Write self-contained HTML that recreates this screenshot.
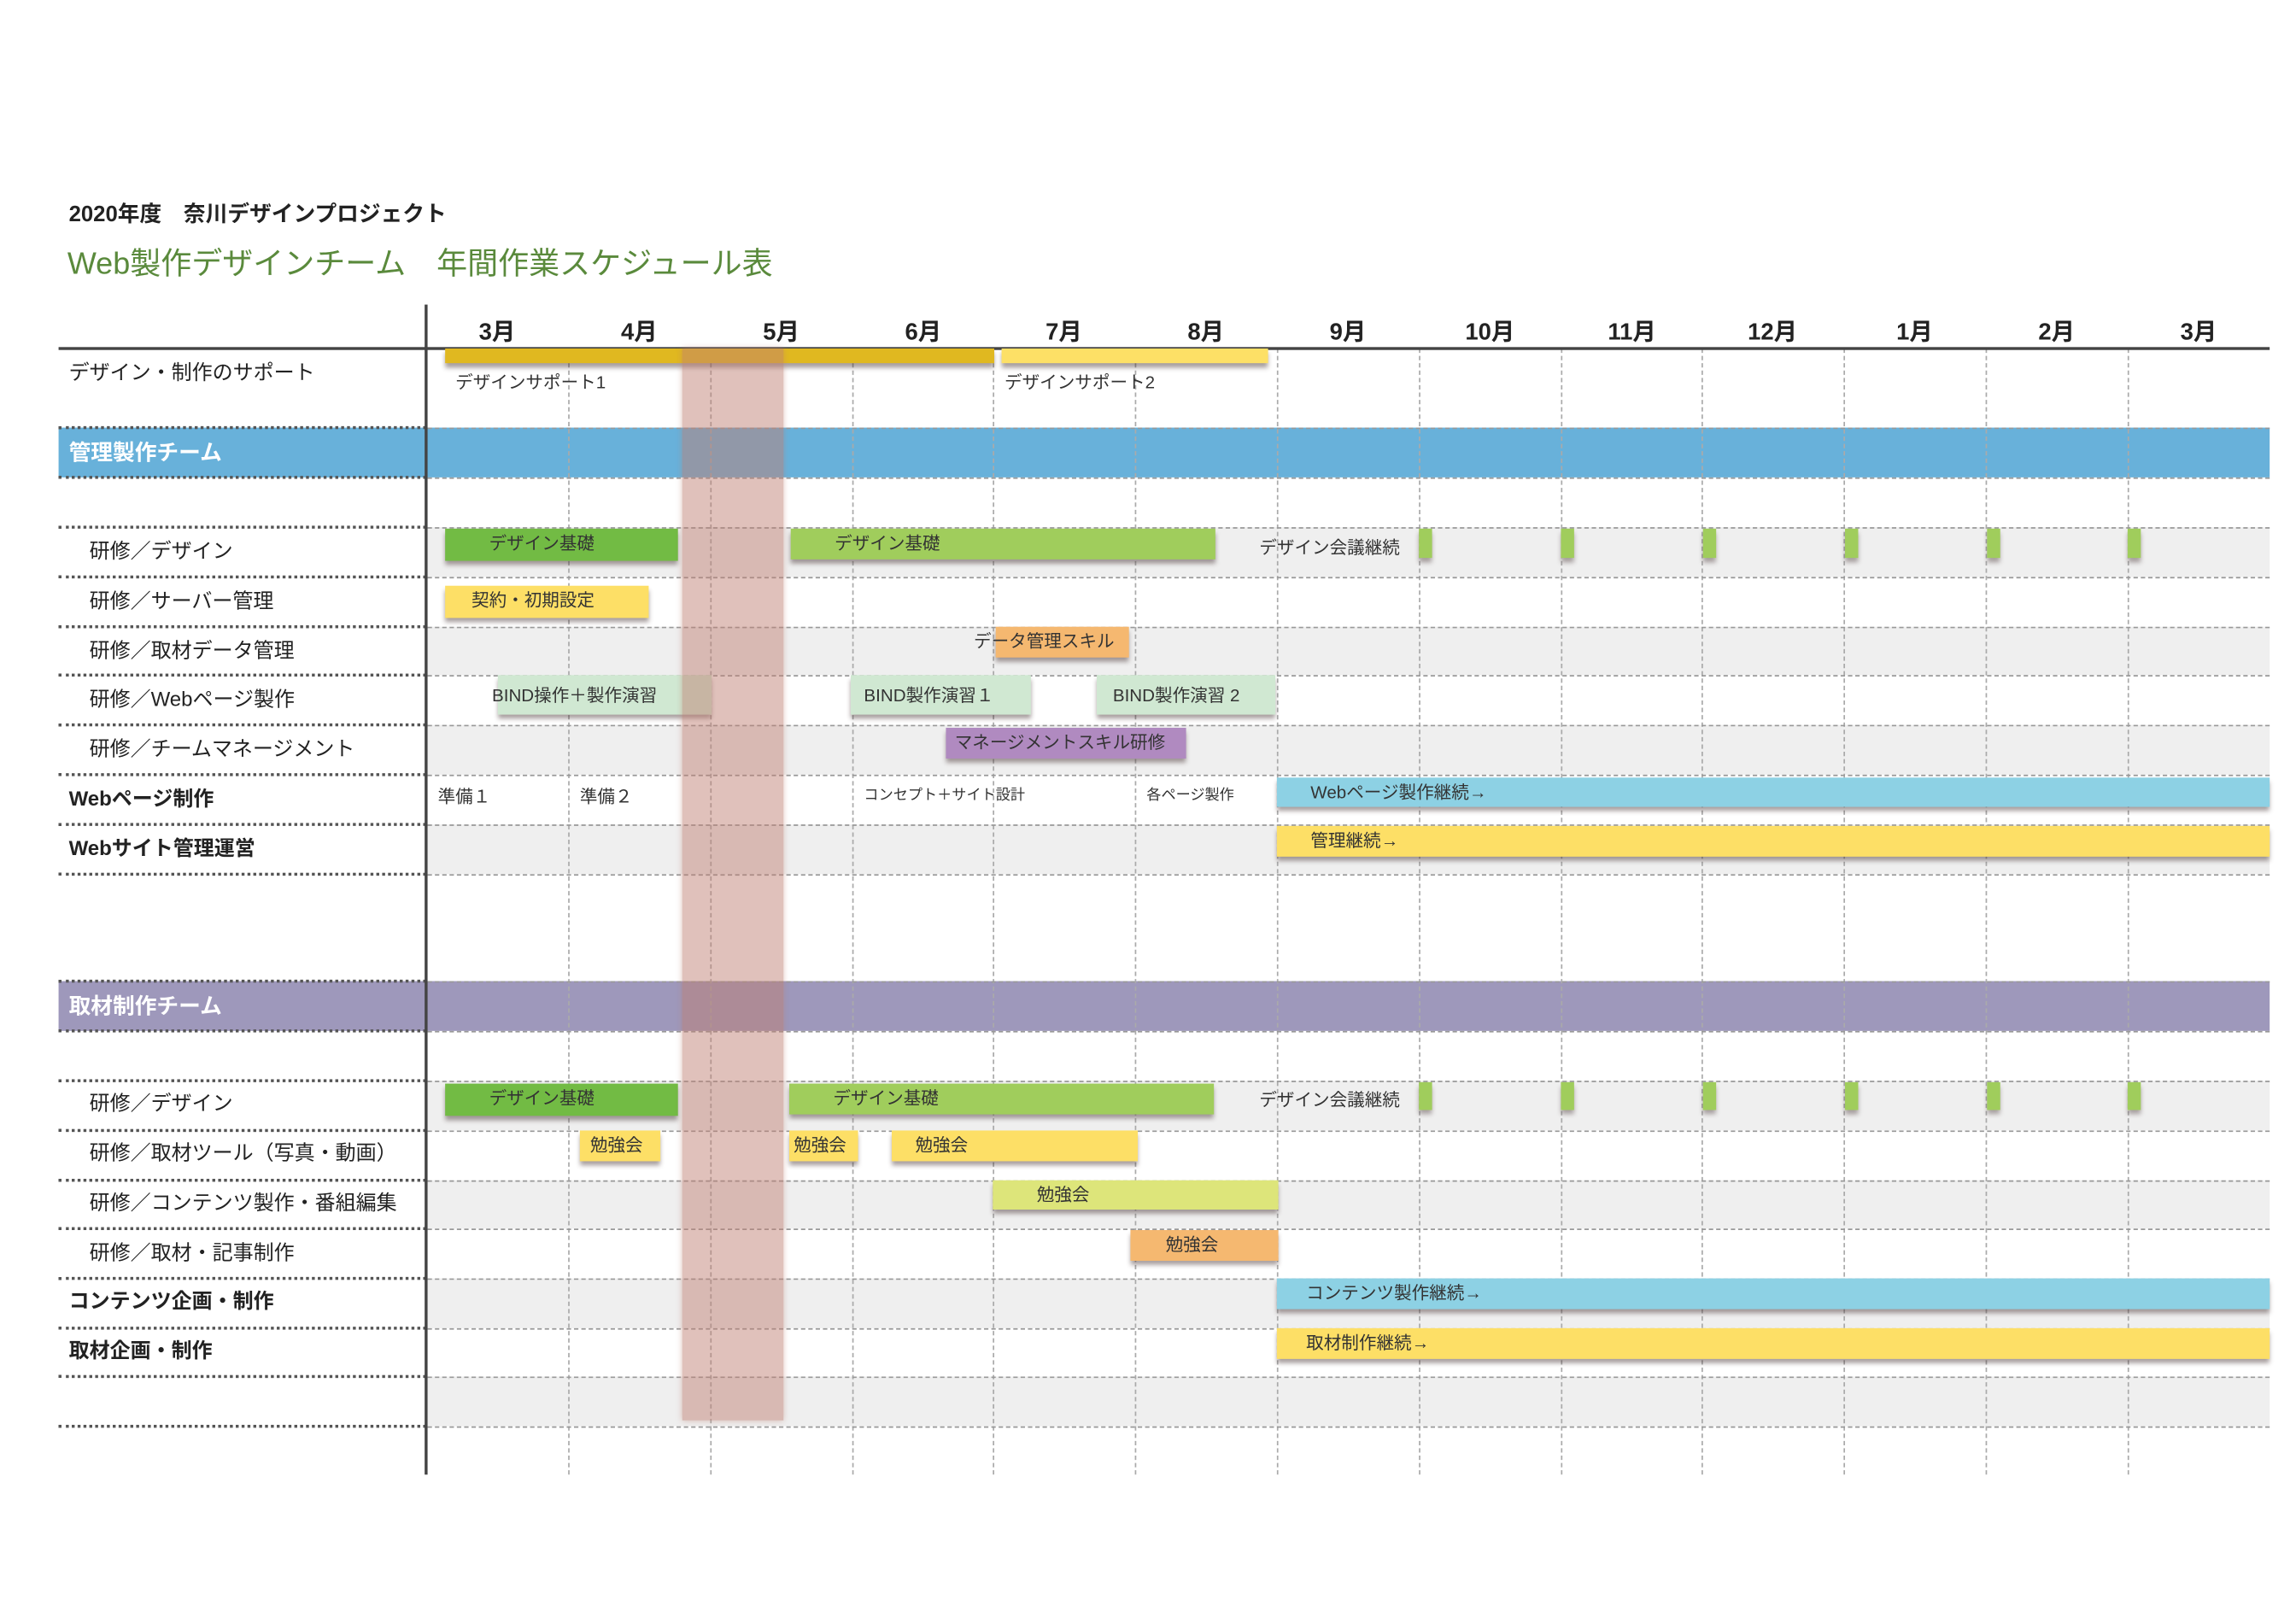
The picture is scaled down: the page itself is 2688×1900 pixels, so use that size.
<!DOCTYPE html>
<html><head><meta charset="utf-8"><style>
body{margin:0;background:#fff;}
#w{position:relative;width:2688px;height:1900px;overflow:hidden;background:#fff;}
#s{position:absolute;left:0;top:0;width:1568px;height:1109px;transform:scale(1.7143);transform-origin:0 0;font-family:"Liberation Sans","Noto Sans CJK JP",sans-serif;color:#222;}
#s div{position:absolute;box-sizing:border-box;}
.t{white-space:nowrap;}
.g{left:292px;width:1258px;background:#efefef;}
.ld{left:40px;width:251px;border-top:2px dotted #555;height:0;}
.rd{left:292px;width:1258px;border-top:1px dashed #999;height:0;}
.vl{top:238px;height:769px;width:0;border-left:1px dashed #aaa;}
.m{top:213px;width:97px;text-align:center;font-weight:bold;font-size:16px;}
.lb{left:61px;font-size:14px;white-space:nowrap;line-height:20px;}
.lbb{left:47px;font-size:14px;font-weight:bold;white-space:nowrap;line-height:20px;}
.b{box-shadow:0 3px 3px rgba(60,40,40,0.45);font-size:12px;white-space:nowrap;line-height:20px;padding-left:30px;color:#333;}
.tk{width:9px;background:#a0cd5c;box-shadow:0 3px 3px rgba(60,40,40,0.4);}
.sm{font-size:12px;white-space:nowrap;color:#333;line-height:16px;}
</style></head><body><div id="w"><div id="s">
<div class="t" style="left:47px;top:135px;font-size:15px;font-weight:bold;">2020年度　奈川デザインプロジェクト</div>
<div class="t" style="left:46px;top:164px;font-size:21px;color:#5a8a3c;">Web製作デザインチーム　年間作業スケジュール表</div>

<!-- gray rows -->
<div class="g" style="top:360px;height:34px"></div>
<div class="g" style="top:428px;height:33px"></div>
<div class="g" style="top:495px;height:34px"></div>
<div class="g" style="top:563px;height:34px"></div>
<div class="g" style="top:738px;height:34px"></div>
<div class="g" style="top:806px;height:33px"></div>
<div class="g" style="top:873px;height:34px"></div>
<div class="g" style="top:940px;height:34px"></div>

<!-- bands -->
<div style="left:40px;top:292px;width:1510px;height:34px;background:#68b1da"></div>
<div class="t" style="left:47px;top:298px;font-size:15px;font-weight:bold;color:#fff;">管理製作チーム</div>
<div style="left:40px;top:670px;width:1510px;height:34px;background:#9e98bb"></div>
<div class="t" style="left:47px;top:676px;font-size:15px;font-weight:bold;color:#fff;">取材制作チーム</div>

<!-- vertical grid -->
<div class="vl" style="left:388px"></div><div class="vl" style="left:485px"></div><div class="vl" style="left:582px"></div><div class="vl" style="left:678px"></div><div class="vl" style="left:775px"></div><div class="vl" style="left:872px"></div><div class="vl" style="left:969px"></div><div class="vl" style="left:1066px"></div><div class="vl" style="left:1162px"></div><div class="vl" style="left:1259px"></div><div class="vl" style="left:1356px"></div><div class="vl" style="left:1453px"></div>

<!-- row lines -->
<div class="ld" style="top:291px"></div><div class="ld" style="top:325px"></div><div class="ld" style="top:359px"></div><div class="ld" style="top:393px"></div><div class="ld" style="top:427px"></div><div class="ld" style="top:460px"></div><div class="ld" style="top:494px"></div><div class="ld" style="top:528px"></div><div class="ld" style="top:562px"></div><div class="ld" style="top:596px"></div><div class="ld" style="top:669px"></div><div class="ld" style="top:703px"></div><div class="ld" style="top:737px"></div><div class="ld" style="top:771px"></div><div class="ld" style="top:805px"></div><div class="ld" style="top:838px"></div><div class="ld" style="top:872px"></div><div class="ld" style="top:906px"></div><div class="ld" style="top:939px"></div><div class="ld" style="top:973px"></div>
<div class="rd" style="top:292px"></div><div class="rd" style="top:326px"></div><div class="rd" style="top:360px"></div><div class="rd" style="top:394px"></div><div class="rd" style="top:428px"></div><div class="rd" style="top:461px"></div><div class="rd" style="top:495px"></div><div class="rd" style="top:529px"></div><div class="rd" style="top:563px"></div><div class="rd" style="top:597px"></div><div class="rd" style="top:670px"></div><div class="rd" style="top:704px"></div><div class="rd" style="top:738px"></div><div class="rd" style="top:772px"></div><div class="rd" style="top:806px"></div><div class="rd" style="top:839px"></div><div class="rd" style="top:873px"></div><div class="rd" style="top:907px"></div><div class="rd" style="top:940px"></div><div class="rd" style="top:974px"></div>

<!-- axes -->
<div style="left:290px;top:208px;width:2px;height:799px;background:#444"></div>
<div style="left:40px;top:237px;width:1510px;height:2px;background:#444"></div>

<!-- months -->
<div class="m" style="left:291px">3月</div><div class="m" style="left:388px">4月</div><div class="m" style="left:485px">5月</div><div class="m" style="left:582px">6月</div><div class="m" style="left:678px">7月</div><div class="m" style="left:775px">8月</div><div class="m" style="left:872px">9月</div><div class="m" style="left:969px">10月</div><div class="m" style="left:1066px">11月</div><div class="m" style="left:1162px">12月</div><div class="m" style="left:1259px">1月</div><div class="m" style="left:1356px">2月</div><div class="m" style="left:1453px">3月</div>

<!-- labels -->
<div class="lb" style="left:47px;top:244px">デザイン・制作のサポート</div>
<div class="lb" style="top:366px">研修／デザイン</div>
<div class="lb" style="top:400px">研修／サーバー管理</div>
<div class="lb" style="top:434px">研修／取材データ管理</div>
<div class="lb" style="top:467px">研修／Webページ製作</div>
<div class="lb" style="top:501px">研修／チームマネージメント</div>
<div class="lbb" style="top:535px">Webページ制作</div>
<div class="lbb" style="top:569px">Webサイト管理運営</div>
<div class="lb" style="top:743px">研修／デザイン</div>
<div class="lb" style="top:777px">研修／取材ツール（写真・動画）</div>
<div class="lb" style="top:811px">研修／コンテンツ製作・番組編集</div>
<div class="lb" style="top:845px">研修／取材・記事制作</div>
<div class="lbb" style="top:878px">コンテンツ企画・制作</div>
<div class="lbb" style="top:912px">取材企画・制作</div>

<!-- support -->
<div class="b" style="left:304px;top:238px;width:375px;height:10px;background:#e0b820"></div>
<div class="b" style="left:684px;top:238px;width:182px;height:10px;background:#fde066"></div>
<div class="sm" style="left:311px;top:253px">デザインサポート1</div>
<div class="sm" style="left:686px;top:253px">デザインサポート2</div>

<!-- management -->
<div class="b" style="left:304px;top:361px;width:159px;height:22px;background:#72bb44">デザイン基礎</div>
<div class="b" style="left:540px;top:361px;width:290px;height:21px;background:#a0cd5c">デザイン基礎</div>
<div class="sm" style="left:860px;top:366px">デザイン会議継続</div>
<div class="tk" style="left:969px;top:361px;height:20px"></div><div class="tk" style="left:1066px;top:361px;height:20px"></div><div class="tk" style="left:1163px;top:361px;height:20px"></div><div class="tk" style="left:1260px;top:361px;height:20px"></div><div class="tk" style="left:1357px;top:361px;height:20px"></div><div class="tk" style="left:1453px;top:361px;height:20px"></div>
<div class="b" style="left:304px;top:400px;width:139px;height:22px;background:#fddf66;padding-left:18px">契約・初期設定</div>
<div class="b" style="left:680px;top:428px;width:91px;height:21px;background:#f5b870"></div>
<div class="sm" style="left:665px;top:430px">データ管理スキル</div>
<div class="b" style="left:340px;top:461px;width:146px;height:27px;background:#d0e8d2;padding-left:0;line-height:28px"></div>
<div class="sm" style="left:336px;top:467px">BIND操作＋製作演習</div>
<div class="b" style="left:581px;top:461px;width:123px;height:27px;background:#d0e8d2;padding-left:9px;line-height:28px">BIND製作演習１</div>
<div class="b" style="left:749px;top:461px;width:122px;height:27px;background:#d0e8d2;padding-left:11px;line-height:28px">BIND製作演習 2</div>
<div class="b" style="left:646px;top:497px;width:164px;height:21px;background:#b08ac0;padding-left:6px">マネージメントスキル研修</div>
<div class="sm" style="left:299px;top:536px">準備１</div>
<div class="sm" style="left:396px;top:536px">準備２</div>
<div class="sm" style="left:590px;top:536px;font-size:10px">コンセプト＋サイト設計</div>
<div class="sm" style="left:783px;top:536px;font-size:10px">各ページ製作</div>
<div class="b" style="left:872px;top:531px;width:678px;height:20px;background:#8dd1e4;padding-left:23px">Webページ製作継続→</div>
<div class="b" style="left:872px;top:564px;width:678px;height:21px;background:#fddf66;padding-left:23px">管理継続→</div>

<!-- material -->
<div class="b" style="left:304px;top:740px;width:159px;height:22px;background:#72bb44">デザイン基礎</div>
<div class="b" style="left:539px;top:740px;width:290px;height:21px;background:#a0cd5c">デザイン基礎</div>
<div class="sm" style="left:860px;top:743px">デザイン会議継続</div>
<div class="tk" style="left:969px;top:739px;height:19px"></div><div class="tk" style="left:1066px;top:739px;height:19px"></div><div class="tk" style="left:1163px;top:739px;height:19px"></div><div class="tk" style="left:1260px;top:739px;height:19px"></div><div class="tk" style="left:1357px;top:739px;height:19px"></div><div class="tk" style="left:1453px;top:739px;height:19px"></div>
<div class="b" style="left:396px;top:772px;width:55px;height:21px;background:#fddf66;padding-left:7px">勉強会</div>
<div class="b" style="left:539px;top:772px;width:47px;height:21px;background:#fddf66;padding-left:3px">勉強会</div>
<div class="b" style="left:609px;top:772px;width:168px;height:21px;background:#fddf66;padding-left:16px">勉強会</div>
<div class="b" style="left:678px;top:806px;width:195px;height:20px;background:#dde57a">勉強会</div>
<div class="b" style="left:772px;top:840px;width:101px;height:21px;background:#f5b870;padding-left:24px">勉強会</div>
<div class="b" style="left:872px;top:873px;width:678px;height:21px;background:#8dd1e4;padding-left:20px">コンテンツ製作継続→</div>
<div class="b" style="left:872px;top:907px;width:678px;height:21px;background:#fddf66;padding-left:20px">取材制作継続→</div>

<!-- pink band -->
<div style="left:466px;top:238px;width:69px;height:732px;background:rgba(190,125,112,0.48);box-shadow:0 0 4px rgba(190,125,112,0.5)"></div>
</div></div></body></html>
